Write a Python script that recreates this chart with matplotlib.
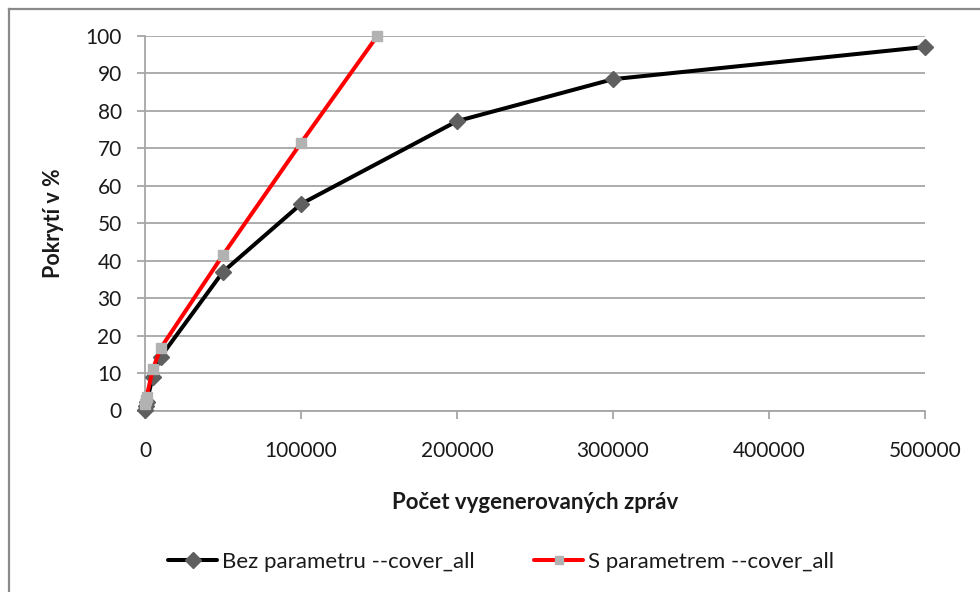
import matplotlib
matplotlib.use("Agg")
import matplotlib.pyplot as plt
from matplotlib.lines import Line2D

plt.rcParams['font.family'] = ['Lato', 'DejaVu Sans']

# Data
x_bez = [100, 500, 1000, 5000, 10000, 50000, 100000, 200000, 300000, 500000]
y_bez = [0.2, 1.2, 2.2, 9.0, 14.3, 37.0, 55.1, 77.2, 88.4, 97.0]
x_s = [100, 500, 1000, 5000, 10000, 50000, 100000, 149000]
y_s = [1.8, 2.8, 3.6, 11.0, 16.6, 41.5, 71.4, 100.0]
label_bez = "Bez parametru --cover_all"
label_s = "S parametrem --cover_all"
x_ticks = [0, 100000, 200000, 300000, 400000, 500000]
y_ticks = list(range(0, 101, 10))

W, H = 980, 592
fig = plt.figure(figsize=(W / 100, H / 100), dpi=100)
ax = fig.add_axes([145 / W, 1 - 410.5 / H, 780 / W, 374.8 / H])

grid_c = '#a6a6a6'
ax.plot(x_bez, y_bez, color='black', lw=2.9, marker='D', markersize=8.5,
        markerfacecolor='#5f5f5f', markeredgecolor='#5f5f5f', label=label_bez,
        zorder=3, solid_capstyle='round', clip_on=False)
ax.plot(x_s, y_s, color='#ff0000', lw=2.9, marker='s', markersize=7,
        markerfacecolor='#b2b2b2', markeredgecolor='#b2b2b2', label=label_s,
        zorder=4, solid_capstyle='round', clip_on=False)

ax.set_xlim(0, 500000)
ax.set_ylim(0, 100)
ax.set_xticks(x_ticks)
ax.set_xticklabels([str(v) for v in x_ticks])
ax.set_yticks(y_ticks)
ax.yaxis.grid(True, color=grid_c, lw=1.3)
ax.set_axisbelow(True)
for s in ['top', 'right']:
    ax.spines[s].set_visible(False)
for s in ['left', 'bottom']:
    ax.spines[s].set_color(grid_c)
    ax.spines[s].set_linewidth(1.3)
ax.tick_params(axis='both', colors=grid_c, length=5.8, width=1.3,
               labelcolor='#1a1a1a', labelsize=15)
ax.tick_params(axis='x', pad=16)
ax.tick_params(axis='y', pad=11)

ax.set_xlabel("Počet vygenerovaných zpráv", fontsize=16, fontweight='bold', color='#1a1a1a')
ax.xaxis.set_label_coords(0.5, -0.217)
ax.set_ylabel("Pokrytí v %", fontsize=15.5, fontweight='bold', color='#1a1a1a')
ax.yaxis.set_label_coords(-0.104, 0.5)

leg = fig.legend(loc='center', bbox_to_anchor=(501 / W, 1 - 562 / H), ncol=2,
                 frameon=False, fontsize=16, handlelength=2.2, handletextpad=0.2,
                 columnspacing=2.7, markerscale=0.9)
for t in leg.get_texts():
    t.set_color('#1a1a1a')

# outer frame (top and left edges visible)
fig.add_artist(Line2D([9 / W, 9 / W], [0, 1 - 9 / H], color='#8a8a8a', lw=1.6,
                      transform=fig.transFigure))
fig.add_artist(Line2D([9 / W, 1], [1 - 9 / H, 1 - 9 / H], color='#8a8a8a', lw=1.6,
                      transform=fig.transFigure))

fig.savefig("out.png", dpi=100)
